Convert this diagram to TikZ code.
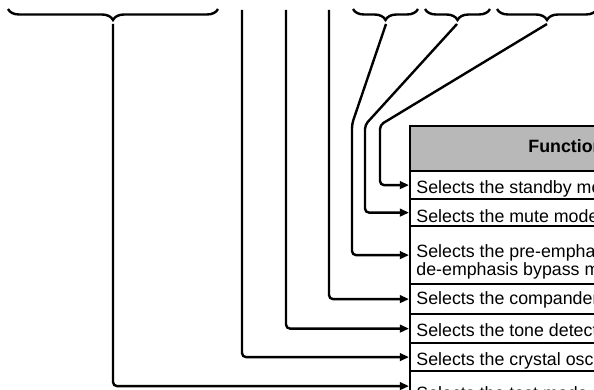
\documentclass[tikz,border=0pt]{standalone}
\usepackage{fontspec}
\setmainfont{Liberation Sans}
\usetikzlibrary{arrows.meta,decorations.pathreplacing}

\begin{document}
\begin{tikzpicture}[x=0.5pt,y=-0.5pt,
  wire/.style={line width=1.2pt,rounded corners=2pt,-{Triangle[length=4.6pt,width=3.8pt]}},
  brc/.style={line width=1.2pt,decorate,decoration={brace,mirror,amplitude=5.5pt}},
  rowbox/.style={draw,line width=1.1pt,anchor=north west,minimum width=160pt,inner sep=0pt},
  rowtxt/.style={font=\fontsize{8.9}{10}\selectfont,inner sep=0pt,anchor=base west}]
  \useasboundingbox (0,0) rectangle (594,390);
  \clip (0,0) rectangle (594,390);
  % table on the right
  \node[rowbox,fill=black!28,minimum height=22.5pt] (hd) at (409,125) {};
  \node[rowtxt,font=\fontsize{8.9}{10}\selectfont\bfseries] (hdt) at (528,152) {Function};
  \foreach \i/\t/\h in {1/170/14pt,2/198/13.5pt,3/225/29pt,4/283/15pt,
                        5/313/14.5pt,6/342/14pt,7/370/15pt}
    \node[rowbox,minimum height=\h] (r\i) at (409,\t) {};
  \foreach \j/\y/\lbl in {1/193/{Selects the standby mo},2/222/{Selects the mute mode},
                          3/257/{Selects the pre-empha},3b/275/{de-emphasis bypass m},
                          4/304/{Selects the compander},5/336/{Selects the tone detect},
                          6/365/{Selects the crystal osc},7/399/{Selects the test mode}}
    \node[rowtxt] (t\j) at (416,\y) {\lbl};
  % braces over the bit field
  \draw[brc] (8,9) -- (218,9);
  \draw[brc] (353,9) -- (418,9);
  \draw[brc] (425,9) -- (490,9);
  \draw[brc] (497,9) -- (597,9);
  \coordinate (bA) at (113,24);
  \coordinate (b1) at (386,24);
  \coordinate (b2) at (457,24);
  \coordinate (b3) at (547,24);
  \coordinate (p2) at (242,10);
  \coordinate (p3) at (286,10);
  \coordinate (p4) at (329,10);
  % leader lines
  \draw[wire] (bA) |- (r7.west);
  \draw[wire] (p2) |- (r6.west);
  \draw[wire] (p3) |- (r5.west);
  \draw[wire] (p4) |- (r4.west);
  \draw[wire] (b1) -- (352,124) |- (r3.west);
  \draw[wire] (b2) -- (365,125) |- (r2.west);
  \draw[wire] (b3) -- (380,125) |- (r1.west);
\end{tikzpicture}
\end{document}
